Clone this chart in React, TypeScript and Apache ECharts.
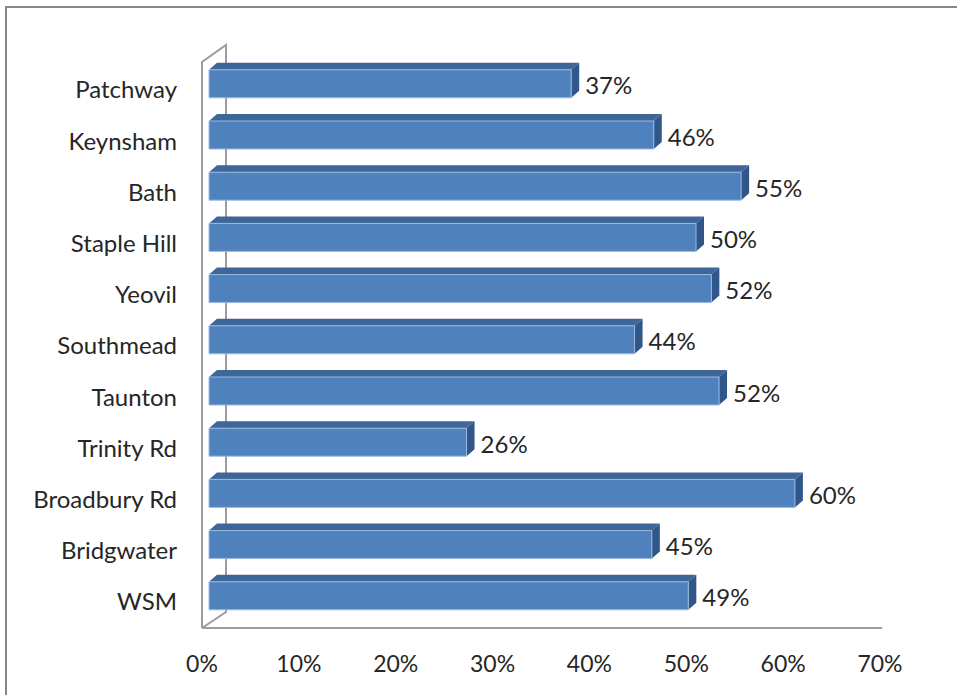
import React, { useEffect, useRef } from "react";
import * as echarts from "echarts";

const categories = ["Patchway", "Keynsham", "Bath", "Staple Hill", "Yeovil", "Southmead", "Taunton", "Trinity Rd", "Broadbury Rd", "Bridgwater", "WSM"];
const values = [37.0, 45.6, 54.7, 50.0, 51.6, 43.6, 52.4, 26.1, 60.3, 45.4, 49.2];
const tickValues = [0, 10, 20, 30, 40, 50, 60, 70];

const FONT = "Lato";
const FRONT = "#4F81BD";
const TOP = "#3E6699";
const SIDE = "#30568A";
const EDGE = "#9ABBE3";
const WALL = "#9C9C9C";

export default function App() {
  const ref = useRef<HTMLDivElement>(null);
  useEffect(() => {
    const chart = echarts.init(ref.current!, null, { renderer: "svg" });
    const DX = 8;
    const DY = 7;
    const FRONT_SHIFT = 7;
    chart.setOption({
      animation: false,
      backgroundColor: "#ffffff",
      grid: [
        { left: 216, width: 672, top: 63.2, height: 563.2 },
        { left: 202, width: 678, top: 600, bottom: 67 },
      ],
      xAxis: [
        { gridIndex: 0, type: "value", min: 0, max: 70, show: false },
        {
          gridIndex: 1,
          type: "value",
          min: 0,
          max: 70,
          interval: 10,
          axisLine: { show: false },
          axisTick: { show: false },
          splitLine: { show: false },
          axisLabel: {
            formatter: (v: number) => (tickValues.includes(v) ? v + "%" : ""),
            fontFamily: FONT,
            fontSize: 23,
            color: "#262626",
            margin: 23,
          },
        },
      ],
      yAxis: [
        {
          gridIndex: 0,
          type: "category",
          data: categories,
          inverse: true,
          axisLine: { show: false },
          axisTick: { show: false },
          splitLine: { show: false },
          axisLabel: { fontFamily: FONT, fontSize: 24, color: "#262626", margin: 39 },
        },
        { gridIndex: 1, type: "value", show: false },
      ],
      graphic: [
        {
          type: "rect",
          z: 0,
          shape: { x: 6, y: 7, width: 1200, height: 1000 },
          style: { fill: "none", stroke: "#878787", lineWidth: 2 },
        },
        {
          type: "polyline",
          z: 1,
          shape: { points: [[202, 628], [202, 62], [226, 45], [226, 612], [202, 628]] },
          style: { fill: "none", stroke: WALL, lineWidth: 2 },
        },
        {
          type: "line",
          z: 1,
          shape: { x1: 202, y1: 628, x2: 882, y2: 628 },
          style: { stroke: WALL, lineWidth: 2 },
        },
      ],
      series: [
        {
          type: "custom",
          xAxisIndex: 0,
          yAxisIndex: 0,
          z: 5,
          data: values.map((v, i) => [v, i]),
          encode: { x: 0, y: 1 },
          renderItem: (params: any, api: any) => {
            const v = api.value(0);
            const idx = api.value(1);
            const p0 = api.coord([0, idx]);
            const p1 = api.coord([v, idx]);
            const cy = p0[1];
            const x0 = p0[0] - FRONT_SHIFT;
            const x1 = p1[0];
            const yt = cy - 19;
            const yb = cy + 9;
            return {
              type: "group",
              children: [
                {
                  type: "polygon",
                  shape: { points: [[x0, yt], [x1, yt], [x1 + DX, yt - DY], [x0 + DX, yt - DY]] },
                  style: { fill: TOP },
                },
                {
                  type: "polygon",
                  shape: { points: [[x1, yt], [x1 + DX, yt - DY], [x1 + DX, yb - DY], [x1, yb]] },
                  style: { fill: SIDE },
                },
                {
                  type: "rect",
                  shape: { x: x0, y: yt, width: x1 - x0, height: yb - yt },
                  style: { fill: FRONT, stroke: EDGE, lineWidth: 1 },
                },
                {
                  type: "text",
                  x: x1 + DX + 6,
                  y: cy - 4,
                  style: {
                    text: Math.round(v) + "%",
                    fontFamily: FONT,
                    fontSize: 24,
                    fill: "#262626",
                    verticalAlign: "middle",
                    align: "left",
                  },
                },
              ],
            };
          },
        },
      ],
    });
    return () => chart.dispose();
  }, []);
  return (
    <div
      ref={ref}
      style={{ position: "fixed", left: 0, top: 0, width: 957, height: 695 }}
    />
  );
}
